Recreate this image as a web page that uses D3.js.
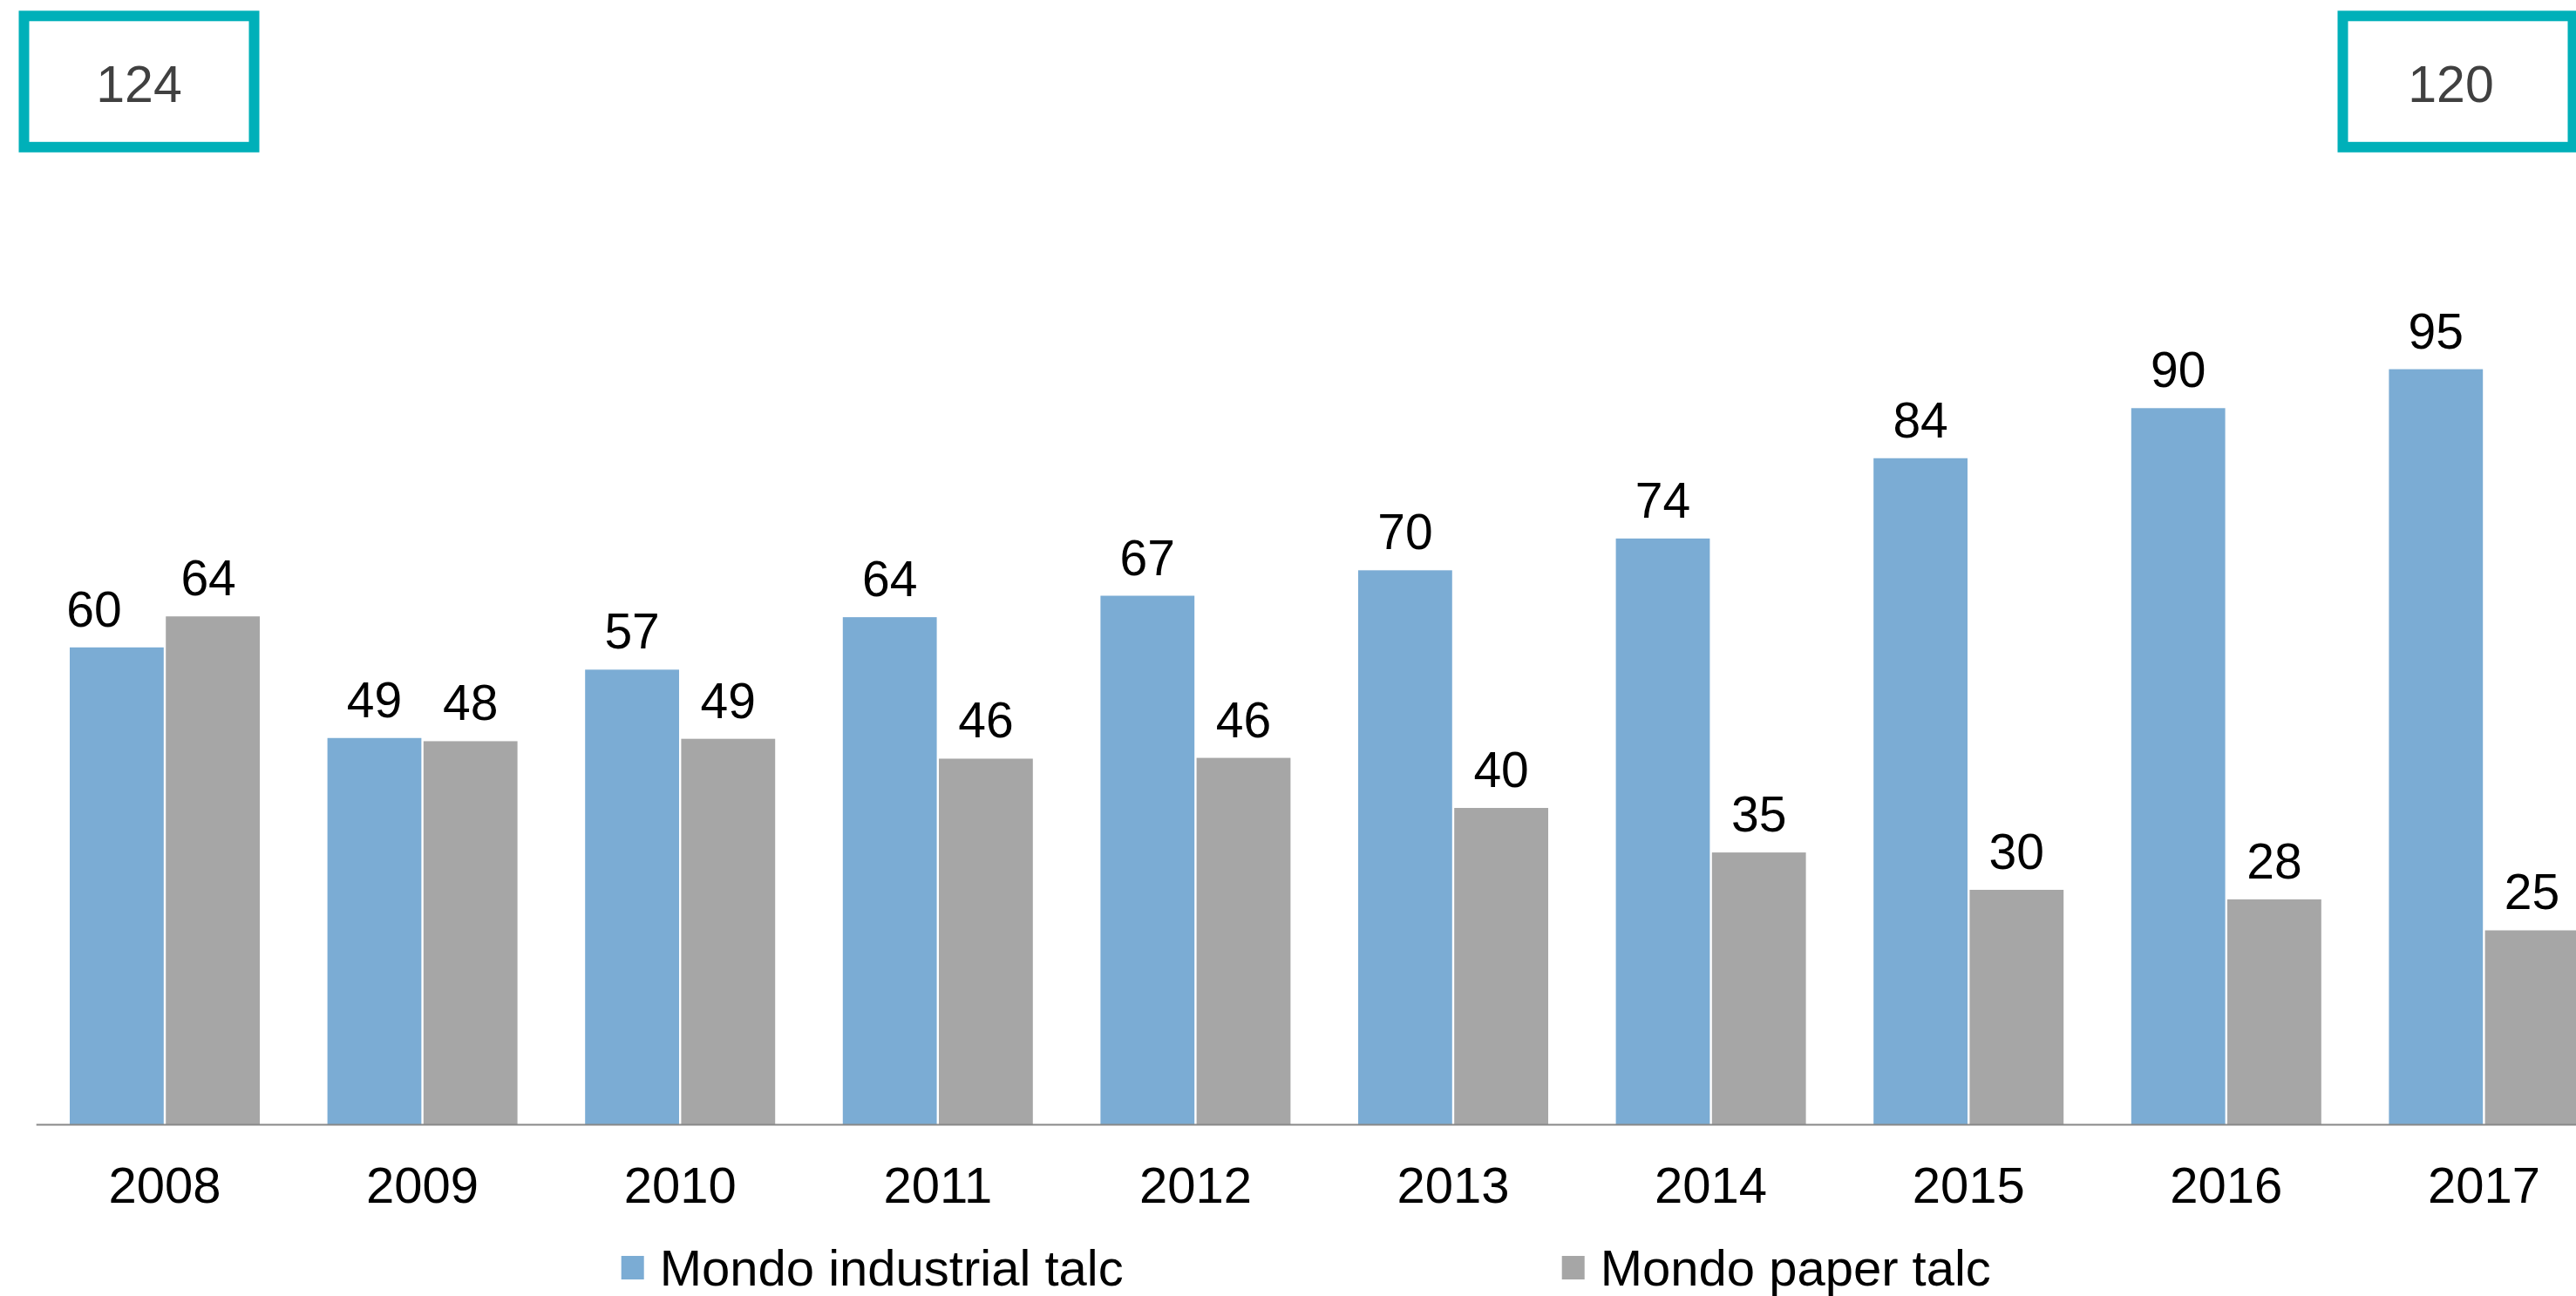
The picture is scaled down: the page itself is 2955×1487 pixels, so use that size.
<!DOCTYPE html>
<html>
<head>
<meta charset="utf-8">
<script src="https://cdn.jsdelivr.net/npm/d3@7"></script>
<style>
  html, body { margin: 0; padding: 0; background: #fff; overflow: hidden; }
  svg { display: block; font-family: "Liberation Sans", Arial, sans-serif; }
</style>
</head>
<body>
<svg></svg>
<script>
// -----------------------------
// DATA
// -----------------------------
const years = ["2008", "2009", "2010", "2011", "2012", "2013", "2014", "2015", "2016", "2017"];
const seriesNames = ["Mondo industrial talc", "Mondo paper talc"];

// bar heights
const industrial = [60, 48.6, 57.2, 63.8, 66.5, 69.7, 73.7, 83.8, 90.1, 95];
const paper = [63.9, 48.2, 48.5, 46, 46.1, 39.8, 34.2, 29.5, 28.3, 24.4];

// printed data labels
const industrialLabels = [60, 49, 57, 64, 67, 70, 74, 84, 90, 95];
const paperLabels = [64, 48, 49, 46, 46, 40, 35, 30, 28, 25];

const colors = ["#7BACD4", "#A6A6A6"];

const width = 2955;
const height = 1487;

const svg = d3.select("svg")
  .attr("width", width)
  .attr("height", height);

const rows = years.map((y, i) => ({
  year: y,
  values: [
    { key: seriesNames[0], value: industrial[i], label: industrialLabels[i], first: i === 0 },
    { key: seriesNames[1], value: paper[i], label: paperLabels[i], first: i === 0 }
  ]
}));

// -----------------------------
// SCALES
// -----------------------------
const baseY = 1290;
const step = 295.6;

const x0 = d3.scaleBand()
  .domain(years)
  .range([41.2, 41.2 + step * years.length])
  .paddingInner(0.2625)
  .paddingOuter(0.13125);

const x1 = d3.scaleBand()
  .domain(seriesNames)
  .range([0, x0.bandwidth()])
  .paddingInner(0.022);

const y = d3.scaleLinear()
  .domain([0, 100])
  .range([baseY, baseY - 912]);

const color = d3.scaleOrdinal()
  .domain(seriesNames)
  .range(colors);

// -----------------------------
// BARS
// -----------------------------
const group = svg.append("g")
  .selectAll("g")
  .data(rows)
  .join("g")
  .attr("transform", d => `translate(${x0(d.year)},0)`);

group.selectAll("rect")
  .data(d => d.values)
  .join("rect")
  .attr("x", d => x1(d.key))
  .attr("y", d => y(d.value))
  .attr("width", x1.bandwidth())
  .attr("height", d => y(0) - y(d.value))
  .attr("fill", d => color(d.key));

// the 2008 labels sit a bit to the left in the original
group.selectAll("text")
  .data(d => d.values)
  .join("text")
  .attr("x", d => x1(d.key) + x1.bandwidth() / 2)
  .attr("dx", d => !d.first ? 0 : (d.key === seriesNames[0] ? -26 : -5))
  .attr("y", d => y(d.value) - 24)
  .attr("text-anchor", "middle")
  .attr("font-size", 57)
  .attr("fill", "#000")
  .text(d => d.label);

// -----------------------------
// AXIS
// -----------------------------
const axis = svg.append("g")
  .attr("transform", `translate(0,${baseY})`)
  .call(d3.axisBottom(x0).tickSize(0).tickSizeOuter(0).tickPadding(49));

axis.select(".domain")
  .attr("stroke", "#888")
  .attr("stroke-width", 2);

axis.selectAll("text")
  .attr("font-size", 58)
  .attr("font-family", "\"Liberation Sans\", Arial, sans-serif")
  .attr("fill", "#000");

// -----------------------------
// LEGEND
// -----------------------------
const legendX = [712.7, 1791.7];

const legend = svg.append("g")
  .selectAll("g")
  .data(seriesNames)
  .join("g")
  .attr("transform", (d, i) => `translate(${legendX[i]},1441)`);

legend.append("rect")
  .attr("width", 26)
  .attr("height", 27)
  .attr("fill", d => color(d));

legend.append("text")
  .attr("x", 44)
  .attr("y", 34)
  .attr("font-size", 58)
  .attr("fill", "#000")
  .text(d => d);

// -----------------------------
// TOTAL BOXES (first / last year)
// -----------------------------
const last = years.length - 1;
const totals = [
  { x: 27.5, tx: 132, value: industrialLabels[0] + paperLabels[0] },
  { x: 2687.5, tx: 124, value: industrialLabels[last] + paperLabels[last] }
];

const box = svg.append("g")
  .selectAll("g")
  .data(totals)
  .join("g")
  .attr("transform", d => `translate(${d.x},18.3)`);

box.append("rect")
  .attr("width", 264)
  .attr("height", 150.5)
  .attr("fill", "#fff")
  .attr("stroke", "#00B0B9")
  .attr("stroke-width", 12);

box.append("text")
  .attr("x", d => d.tx)
  .attr("y", 98.4)
  .attr("text-anchor", "middle")
  .attr("font-size", 59)
  .attr("fill", "#404040")
  .text(d => d.value);
</script>
</body>
</html>
